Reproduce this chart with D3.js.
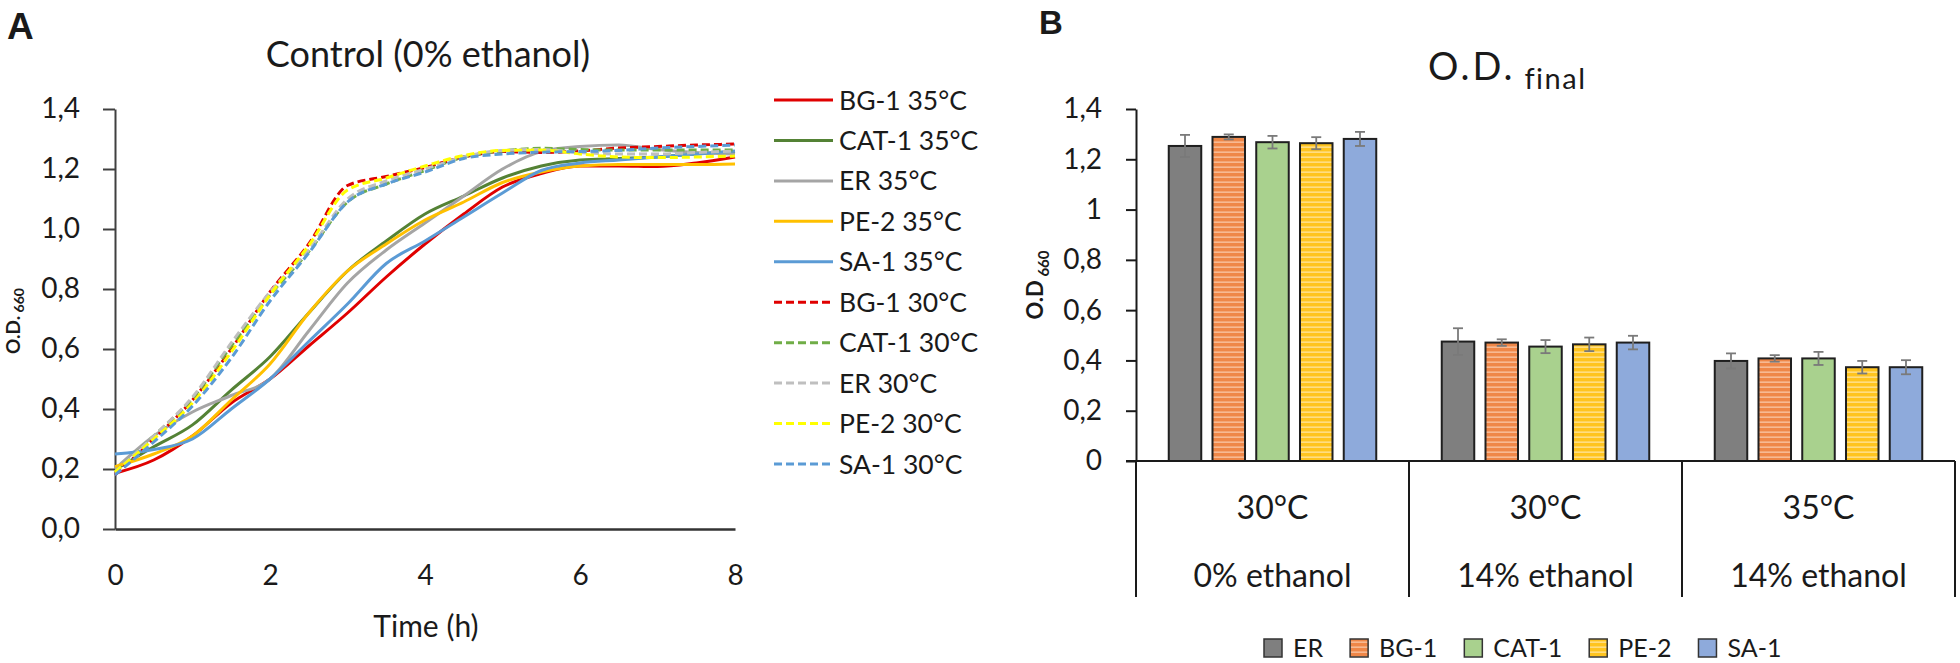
<!DOCTYPE html>
<html><head><meta charset="utf-8">
<script src="https://cdn.jsdelivr.net/npm/d3@7/dist/d3.min.js"></script>
<style>
body{margin:0;background:#fff;}
text{font-family:Lato,"Open Sans",sans-serif;fill:#1a1a1a;}
</style>
</head><body>
<svg id="c" width="1960" height="663"></svg>
<script>
// ---------- Panel A data ----------
const times = [0,0.5,1,1.5,2,2.5,3,3.5,4,4.5,5,5.5,6,6.5,7,7.5,8];
const seriesNames = ["BG-1 35°C","CAT-1 35°C","ER 35°C","PE-2 35°C","SA-1 35°C",
                     "BG-1 30°C","CAT-1 30°C","ER 30°C","PE-2 30°C","SA-1 30°C"];
const bg1_35  = [0.186,0.23,0.31,0.42,0.50,0.61,0.72,0.84,0.95,1.05,1.14,1.185,1.21,1.21,1.208,1.22,1.24];
const cat1_35 = [0.197,0.274,0.347,0.463,0.574,0.72,0.86,0.96,1.05,1.11,1.17,1.21,1.23,1.235,1.24,1.25,1.258];
const er_35   = [0.20,0.31,0.39,0.445,0.50,0.66,0.82,0.93,1.02,1.11,1.20,1.258,1.275,1.28,1.265,1.255,1.25];
const pe2_35  = [0.208,0.25,0.31,0.43,0.55,0.72,0.86,0.95,1.03,1.09,1.155,1.19,1.21,1.215,1.215,1.215,1.217];
const sa1_35  = [0.25,0.265,0.30,0.40,0.50,0.625,0.75,0.885,0.96,1.04,1.12,1.195,1.22,1.23,1.24,1.25,1.26];
const bg1_30  = [0.18,0.30,0.43,0.60,0.79,0.95,1.145,1.175,1.205,1.24,1.258,1.255,1.26,1.27,1.275,1.28,1.283];
const cat1_30 = [0.19,0.31,0.435,0.61,0.78,0.925,1.09,1.15,1.195,1.24,1.26,1.269,1.265,1.263,1.263,1.263,1.263];
const er_30   = [0.19,0.31,0.44,0.62,0.79,0.93,1.10,1.16,1.20,1.24,1.262,1.265,1.255,1.25,1.25,1.255,1.26];
const pe2_30  = [0.19,0.30,0.42,0.59,0.78,0.945,1.13,1.17,1.21,1.245,1.262,1.263,1.25,1.24,1.238,1.24,1.243];
const sa1_30  = [0.18,0.29,0.41,0.57,0.76,0.92,1.09,1.15,1.19,1.235,1.25,1.256,1.258,1.262,1.27,1.275,1.28];
const xTicksA = [0,2,4,6,8];
const yTicksA = [0,0.2,0.4,0.6,0.8,1.0,1.2,1.4];

// ---------- Panel B data ----------
const groupTemps = ["30°C","30°C","35°C"];
const groupEthanol = ["0% ethanol","14% ethanol","14% ethanol"];
const strains = ["ER","BG-1","CAT-1","PE-2","SA-1"];
const odEthanol0_30  = [1.253,1.289,1.268,1.264,1.281];
const odEthanol14_30 = [0.475,0.471,0.455,0.464,0.471];
const odEthanol14_35 = [0.398,0.408,0.408,0.373,0.373];
const errEthanol0_30  = [0.044,0.010,0.025,0.024,0.028];
const errEthanol14_30 = [0.053,0.013,0.026,0.027,0.027];
const errEthanol14_35 = [0.030,0.013,0.026,0.025,0.028];
const yTicksB = [0,0.2,0.4,0.6,0.8,1,1.2,1.4];

// ---------- styles ----------
const lineColors = ["#e00000","#548235","#a5a5a5","#ffc000","#5b9bd5",
                    "#e00000","#70ad47","#bfbfbf","#ffff00","#5b9bd5"];
const barFills = ["#7f7f7f","url(#stripeO)","#a9d18e","url(#stripeY)","#8eaadb"];

const svg = d3.select("#c");
svg.append("rect").attr("width",1960).attr("height",663).attr("fill","#fff");

const defs = svg.append("defs");
function stripe(id, base, light){
  const p = defs.append("pattern").attr("id",id).attr("patternUnits","userSpaceOnUse")
    .attr("width",8).attr("height",5);
  p.append("rect").attr("width",8).attr("height",5).attr("fill",base);
  p.append("rect").attr("y",1.5).attr("width",8).attr("height",1.3).attr("fill",light);
}
stripe("stripeO","#ef8748","#f9c6a4");
stripe("stripeY","#ffc41f","#ffe49a");

const fmt = d => String(+(+d).toFixed(1)).replace(".",",");
const fmt1 = d => d3.format(".1f")(d).replace(".",",");

// ================= PANEL A =================
const xA = d3.scaleLinear().domain([0,8]).range([115,735]);
const yA = d3.scaleLinear().domain([0,1.4]).range([529,109]);

svg.append("text").attr("x",7).attr("y",39).text("A")
  .style("font-family","'Liberation Sans',Arial,sans-serif").style("font-weight","bold").style("font-size","37px");

svg.append("text").attr("x",428).attr("y",67).attr("text-anchor","middle")
  .style("font-size","36px").text("Control (0% ethanol)");

// y axis
const gyA = svg.append("g").attr("transform","translate(115,0)")
  .call(d3.axisLeft(yA).tickValues(yTicksA).tickFormat(fmt1).tickSize(12).tickPadding(23).tickSizeOuter(0));
gyA.select(".domain").attr("stroke","#404040").attr("stroke-width",2);
gyA.selectAll(".tick line").attr("stroke","#404040").attr("stroke-width",2);
gyA.selectAll(".tick text").style("font-size","28px").style("font-family","Lato").attr("fill","#1a1a1a");

// x axis
const gxA = svg.append("g").attr("transform","translate(0,529)")
  .call(d3.axisBottom(xA).tickValues(xTicksA).tickFormat(d=>d).tickSize(0).tickPadding(36).tickSizeOuter(0));
gxA.select(".domain").attr("stroke","#333").attr("stroke-width",2.5);
gxA.selectAll(".tick text").style("font-size","28px").style("font-family","Lato").attr("fill","#1a1a1a");

svg.append("text").attr("x",426).attr("y",637).attr("text-anchor","middle")
  .style("font-size","30px").text("Time (h)");

// y label
const ylA = svg.append("text").attr("transform","translate(20,321) rotate(-90)").attr("text-anchor","middle");
ylA.append("tspan").style("font-weight","bold").style("font-size","19px").text("O.D.");
ylA.append("tspan").style("font-weight","bold").style("font-size","14px").attr("dy",4).text("  660");

// lines
const allSeries = [bg1_35,cat1_35,er_35,pe2_35,sa1_35,bg1_30,cat1_30,er_30,pe2_30,sa1_30];
const line = d3.line().x((d,i)=>xA(times[i])).y(d=>yA(d)).curve(d3.curveMonotoneX);
const gLines = svg.append("g");
allSeries.forEach((s,i)=>{
  gLines.append("path").attr("d",line(s)).attr("fill","none")
    .attr("stroke",lineColors[i]).attr("stroke-width",3)
    .attr("stroke-dasharray", i>=5 ? "8,4" : null);
});

// legend A
const legA = svg.append("g");
const rowY = d3.scaleLinear().domain([0,9]).range([100,464]);
seriesNames.forEach((n,i)=>{
  const y = rowY(i);
  legA.append("line").attr("x1",774).attr("x2",833).attr("y1",y).attr("y2",y)
    .attr("stroke",lineColors[i]).attr("stroke-width",3)
    .attr("stroke-dasharray", i>=5 ? "8,4" : null);
  legA.append("text").attr("x",839).attr("y",y).attr("dy","0.36em")
    .style("font-size","26.5px").text(n);
});

// ================= PANEL B =================
const yB = d3.scaleLinear().domain([0,1.4]).range([461,109]);
const xG = d3.scaleBand().domain([0,1,2]).range([1136,1955]);
const xS = d3.scaleBand().domain(strains).range([-103.75,103.75]).paddingInner(0.257).paddingOuter(0);

svg.append("text").attr("x",1039).attr("y",34).text("B")
  .style("font-family","'Liberation Sans',Arial,sans-serif").style("font-weight","bold").style("font-size","33px");

const tB = svg.append("text").attr("x",1428).attr("y",80);
tB.append("tspan").style("font-size","38px").attr("letter-spacing","3px").text("O.D.");
tB.append("tspan").style("font-size","29px").attr("dy",9).attr("letter-spacing","1.5px").text(" final");

const gyB = svg.append("g").attr("transform","translate(1136,0)")
  .call(d3.axisLeft(yB).tickValues(yTicksB).tickFormat(fmt).tickSize(10).tickPadding(24).tickSizeOuter(0));
gyB.select(".domain").attr("stroke","#1a1a1a").attr("stroke-width",2);
gyB.selectAll(".tick line").attr("stroke","#1a1a1a").attr("stroke-width",2);
gyB.selectAll(".tick text").style("font-size","28px").style("font-family","Lato").attr("fill","#1a1a1a");

const ylB = svg.append("text").attr("transform","translate(1043,285) rotate(-90)").attr("text-anchor","middle");
ylB.append("tspan").style("font-weight","bold").style("font-size","22px").text("O.D");
ylB.append("tspan").style("font-weight","bold").style("font-size","15px").attr("dy",6).text(" 660");

// bars
const groupVals = [odEthanol0_30, odEthanol14_30, odEthanol14_35];
const groupErr = [errEthanol0_30, errEthanol14_30, errEthanol14_35];
groupVals.forEach((vals,g)=>{
  const cx = xG(g) + xG.bandwidth()/2;
  const gg = svg.append("g").attr("transform",`translate(${cx},0)`);
  vals.forEach((v,i)=>{
    gg.append("rect").attr("x",xS(strains[i])).attr("width",xS.bandwidth())
      .attr("y",yB(v)).attr("height",yB(0)-yB(v))
      .attr("fill",barFills[i]).attr("stroke","#1f1f1f").attr("stroke-width",2);
  });
  vals.forEach((v,i)=>{
    const e = groupErr[g][i];
    const mx = xS(strains[i]) + xS.bandwidth()/2;
    gg.append("line").attr("x1",mx).attr("x2",mx).attr("y1",yB(v+e)).attr("y2",yB(v-e))
      .attr("stroke","#7a7a7a").attr("stroke-width",1.8);
    [v+e, v-e].forEach(t=>{
      gg.append("line").attr("x1",mx-5).attr("x2",mx+5).attr("y1",yB(t)).attr("y2",yB(t))
        .attr("stroke","#7a7a7a").attr("stroke-width",1.8);
    });
  });
});

// x axis B
svg.append("line").attr("x1",1126).attr("x2",1955).attr("y1",yB(0)).attr("y2",yB(0))
  .attr("stroke","#1a1a1a").attr("stroke-width",2);
const seps = [0,1,2].map(g=>xG(g)).concat([xG(2)+xG.bandwidth()]);
seps.forEach(x=>{
  svg.append("line").attr("x1",x).attr("x2",x).attr("y1",yB(0)).attr("y2",597)
    .attr("stroke","#1a1a1a").attr("stroke-width",2);
});
[0,1,2].forEach(g=>{
  const cx = xG(g)+xG.bandwidth()/2;
  svg.append("text").attr("x",cx).attr("y",519).attr("text-anchor","middle").style("font-size","32px").text(groupTemps[g]);
  svg.append("text").attr("x",cx).attr("y",587).attr("text-anchor","middle").style("font-size","32px").text(groupEthanol[g]);
});

// legend B
let lx = 1264;
strains.forEach((s,i)=>{
  svg.append("rect").attr("x",lx).attr("y",639).attr("width",18).attr("height",18)
    .attr("fill",barFills[i]).attr("stroke","#333").attr("stroke-width",1.5);
  const t = svg.append("text").attr("x",lx+29).attr("y",657).style("font-size","25px").text(s);
  lx += 29 + t.node().getComputedTextLength() + 27;
});
</script>
</body></html>
